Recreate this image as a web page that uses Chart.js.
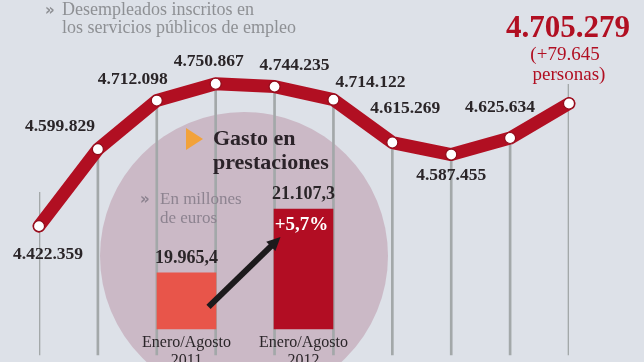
<!DOCTYPE html>
<html lang="es">
<head>
<meta charset="utf-8">
<title>Desempleados inscritos y gasto en prestaciones</title>
<script src="https://cdn.jsdelivr.net/npm/chart.js@4.4.1/dist/chart.umd.min.js"></script>
<style>
  html, body { margin: 0; padding: 0; }
  body {
    width: 644px; height: 362px; overflow: hidden; position: relative;
    background: #dde1e8; font-family: "Liberation Serif", serif;
  }
  #circle {
    position: absolute; left: 100px; top: 112px; width: 288px; height: 288px;
    border-radius: 50%; background: #cbb9c6; z-index: 0;
  }
  #main { position: absolute; left: 0; top: 0; z-index: 1; }
  #gasto { position: absolute; left: 128px; top: 180px; z-index: 3; }
  .txt { position: absolute; white-space: nowrap; z-index: 2; }
  .titulo { color: #8e9094; font-size: 18px; line-height: 18px; }
  .gasto { color: #2b2329; font-size: 22px; line-height: 24px; font-weight: bold; }
  .nota { color: #8d8390; font-size: 17px; line-height: 19px; }
  .chev { font-family: "DejaVu Sans", sans-serif; font-weight: bold; font-size: 15px; }
  #tri {
    position: absolute; left: 186px; top: 128px; width: 0; height: 0; z-index: 2;
    border-top: 11px solid transparent; border-bottom: 11px solid transparent;
    border-left: 17px solid #f2a23a;
  }
</style>
</head>
<body>
<div id="circle"></div>
<canvas id="main" width="644" height="362"></canvas>

<div class="txt titulo chev" style="left:45px;top:1px;">»</div>
<div class="txt titulo" style="left:62px;top:0px;">Desempleados inscritos en<br>los servicios públicos de empleo</div>

<div id="tri"></div>
<div class="txt gasto" style="left:213px;top:126px;">Gasto en<br>prestaciones</div>
<div class="txt nota chev" style="left:140px;top:190px;">»</div>
<div class="txt nota" style="left:160px;top:189px;">En millones<br>de euros</div>

<canvas id="gasto" width="234" height="194"></canvas>

<script>
// Datos: desempleados inscritos (serie mensual)
const unemployed = [4422359, 4599829, 4712098, 4750867, 4744235, 4714122, 4615269, 4587455, 4625634, 4705279];
// Gasto en prestaciones, millones de euros
const spendingCategories = ['Enero/Agosto 2011', 'Enero/Agosto 2012'];
const spendingValues = [19965.4, 21107.3];

const RED = '#b10f22';
const INK = '#2a2528';

function miles(n) {
    return String(n).replace(/\B(?=(\d{3})+(?!\d))/g, '.');
}
function decimal(n) {
    const [i, d] = n.toFixed(1).split('.');
    return miles(i) + ',' + d;
}

// Etiquetas de cada punto de la línea
const pointLabels = {
    id: 'pointLabels',
    afterDatasetsDraw(chart) {
        const ctx = chart.ctx;
        const pts = chart.getDatasetMeta(1).data;
        const shift = [[9, 28], [-38, -23], [-24, -21], [-7, -22], [20, -21], [37, -17], [13, -34], [0, 21], [-10, -31]];
        const last = pts.length - 1;
        ctx.save();
        ctx.textAlign = 'center';
        ctx.textBaseline = 'middle';
        ctx.fillStyle = INK;
        ctx.font = 'bold 17.5px "Liberation Serif"';
        pts.forEach((p, i) => {
            if (i === last) return;
            ctx.fillText(miles(unemployed[i]), p.x + shift[i][0], p.y + shift[i][1]);
        });
        // último valor destacado
        const p = pts[last];
        const diff = unemployed[last] - unemployed[last - 1];
        ctx.fillStyle = RED;
        ctx.font = 'bold 31px "Liberation Serif"';
        ctx.fillText(miles(unemployed[last]), p.x - 1, p.y - 75);
        ctx.font = '19px "Liberation Serif"';
        ctx.fillText('(+' + miles(diff), p.x - 4, p.y - 48);
        ctx.fillText('personas)', p.x, p.y - 28);
        ctx.restore();
    }
};

// Líneas verticales guía (más largas en los extremos)
const guideLead = { 0: 78000, 9: 44000 };

new Chart(document.getElementById('main'), {
    data: {
        labels: unemployed.map((v, i) => i + 1),
        datasets: [
            {
                type: 'bar',
                data: unemployed.map((v, i) => v + (guideLead[i] || 0)),
                backgroundColor: '#a3a8a9',
                barThickness: 2,
                order: 2
            },
            {
                type: 'line',
                data: unemployed,
                borderColor: RED,
                borderWidth: 13,
                borderCapStyle: 'round',
                borderJoinStyle: 'round',
                tension: 0,
                pointRadius: 5.5,
                pointBackgroundColor: '#ffffff',
                pointBorderColor: '#8f0b1a',
                pointBorderWidth: 1.2,
                clip: false,
                order: 1
            }
        ]
    },
    options: {
        responsive: false,
        animation: false,
        devicePixelRatio: 1,
        layout: { padding: { left: 39, right: 75, top: 0, bottom: 0 } },
        plugins: { legend: { display: false }, tooltip: { enabled: false } },
        scales: {
            x: { display: false, offset: false },
            y: { display: false, min: 4124348, max: 4928603 }
        }
    },
    plugins: [pointLabels]
});

// Etiquetas y flecha del gráfico de gasto
const gastoLabels = {
    id: 'gastoLabels',
    afterDatasetsDraw(chart) {
        const ctx = chart.ctx;
        const bars = chart.getDatasetMeta(0).data;
        const pct = ((spendingValues[1] / spendingValues[0] - 1) * 100).toFixed(1).replace('.', ',');
        ctx.save();
        ctx.textAlign = 'center';
        ctx.textBaseline = 'middle';
        ctx.font = 'bold 18px "Liberation Serif"';
        ctx.fillStyle = INK;
        bars.forEach((b, i) => ctx.fillText(decimal(spendingValues[i]), b.x, b.y - 15));
        ctx.fillStyle = '#ffffff';
        ctx.font = 'bold 19px "Liberation Serif"';
        ctx.fillText('+' + pct + '%', bars[1].x - 2, bars[1].y + 16);

        // flecha
        const x0 = bars[0].x + 22, y0 = bars[0].y + 34;
        const x1 = bars[1].x - 23, y1 = bars[1].y + 28;
        const a = Math.atan2(y1 - y0, x1 - x0);
        const head = 15;
        ctx.strokeStyle = '#1c1a1c';
        ctx.fillStyle = '#1c1a1c';
        ctx.lineWidth = 6;
        ctx.beginPath();
        ctx.moveTo(x0, y0);
        ctx.lineTo(x1 - Math.cos(a) * head * 0.8, y1 - Math.sin(a) * head * 0.8);
        ctx.stroke();
        ctx.beginPath();
        ctx.moveTo(x1, y1);
        ctx.lineTo(x1 - head * Math.cos(a - 0.45), y1 - head * Math.sin(a - 0.45));
        ctx.lineTo(x1 - head * Math.cos(a + 0.45), y1 - head * Math.sin(a + 0.45));
        ctx.closePath();
        ctx.fill();
        ctx.restore();
    }
};

new Chart(document.getElementById('gasto'), {
    type: 'bar',
    data: {
        labels: spendingCategories.map(c => c.split(' ')),
        datasets: [{
            data: spendingValues,
            backgroundColor: ['#e8554a', '#b20d23'],
            barThickness: 59
        }]
    },
    options: {
        responsive: false,
        animation: false,
        devicePixelRatio: 1,
        layout: { padding: 0 },
        plugins: { legend: { display: false }, tooltip: { enabled: false } },
        scales: {
            x: {
                grid: { display: false, drawTicks: false },
                border: { display: false },
                ticks: {
                    color: INK,
                    font: { family: 'Liberation Serif', size: 16, lineHeight: 1.15 },
                    padding: 4,
                    maxRotation: 0,
                    autoSkip: false
                }
            },
            y: { display: false, min: 18960, max: 21626 }
        }
    },
    plugins: [gastoLabels]
});
</script>
</body>
</html>
